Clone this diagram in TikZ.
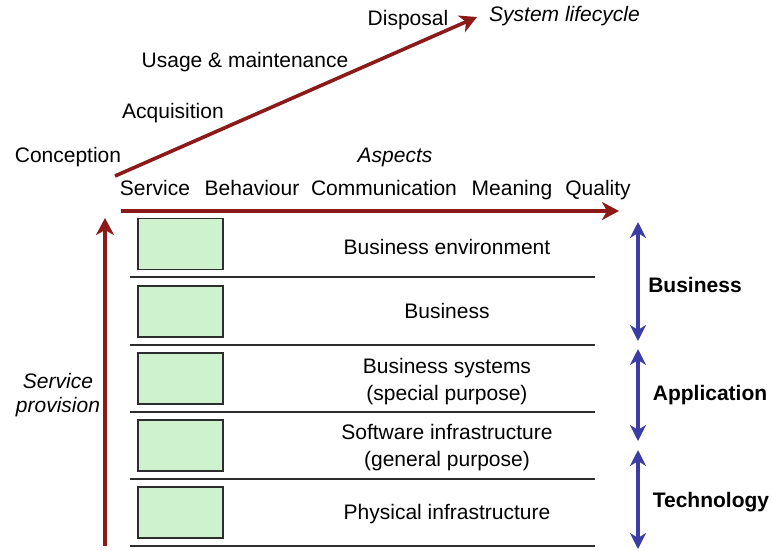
\documentclass[tikz,border=0pt]{standalone}
\usepackage{fontspec}
\setmainfont{Liberation Sans}
\usetikzlibrary{arrows.meta}
\definecolor{arrred}{RGB}{140,26,24}
\definecolor{arrblue}{RGB}{60,60,165}
\definecolor{boxgreen}{RGB}{206,242,206}
\definecolor{linegrey}{RGB}{45,45,45}
\begin{document}
\begin{tikzpicture}[x=1pt,y=-1pt,
  lbl/.style={font=\fontsize{21}{27}\selectfont, inner sep=0pt, align=center},
  one/.style={text height=15pt, text depth=0pt},
  itl/.style={lbl, font=\fontsize{21}{24}\selectfont\itshape},
  bld/.style={lbl, font=\fontsize{21}{24}\selectfont\bfseries},
  redarrow/.style={draw=arrred, line width=3.6pt, -{Stealth[length=17pt,width=18pt,inset=5pt]}},
  bluearrow/.style={draw=arrblue, line width=3.2pt, {Stealth[length=16pt,width=16pt,inset=5pt]}-{Stealth[length=16pt,width=16pt,inset=5pt]}},
  greenbox/.style={draw=linegrey, line width=1.3pt, fill=boxgreen, minimum width=85pt, minimum height=51pt, inner sep=0pt},
  sepline/.style={draw=linegrey, line width=1.3pt}
]
\useasboundingbox (0,0) rectangle (772,550);

% lifecycle
\coordinate (lcs) at (115,176);
\coordinate (lce) at (477,17);
\draw[redarrow] (lcs) -- (lce);
\node[lbl, one] (conc) at (68,155) {Conception};
\node[lbl, one] (acq) at (173,111) {Acquisition};
\node[lbl, one] (usage) at (245,60) {Usage \& maintenance};
\node[lbl, one] (disp) at (408,18) {Disposal};
\node[itl, one, anchor=west] (syslc) at (489,14) {System lifecycle};

% aspects
\node[itl, one] (aspects) at (395,155) {Aspects};
\node[lbl, one] (a1) at (155,188) {Service};
\node[lbl, one] (a2) at (252,188) {Behaviour};
\node[lbl, one] (a3) at (384,188) {Communication};
\node[lbl, one] (a4) at (512,188) {Meaning};
\node[lbl, one] (a5) at (598,188) {Quality};
\coordinate (ahs) at (121,211);
\coordinate (ahe) at (619,211);
\draw[redarrow] (ahs) -- (ahe);

% service provision
\coordinate (sps) at (105,546);
\coordinate (spe) at (105,218);
\draw[redarrow] (sps) -- (spe);
\node[itl] (sp) at (58,395) {Service\\provision};

% layers
\foreach \y in {277,345,412,479,546} \draw[sepline] (130,\y) -- (595,\y);
\node[greenbox] (b1) at (180.5,244) {};
\node[greenbox] (b2) at (180.5,311.5) {};
\node[greenbox] (b3) at (180.5,378.5) {};
\node[greenbox] (b4) at (180.5,445.5) {};
\node[greenbox] (b5) at (180.5,512.5) {};
\node[lbl, one] (l1) at (447,247) {Business environment};
\node[lbl, one] (l2) at (447,311) {Business};
\node[lbl] (l3) at (447,382) {Business systems\\(special purpose)};
\node[lbl] (l4) at (447,448) {Software infrastructure\\(general purpose)};
\node[lbl, one] (l5) at (447,512) {Physical infrastructure};

% right arrows
\coordinate (bt) at (638,222);
\coordinate (bb) at (638,341);
\coordinate (at) at (638,349);
\coordinate (ab) at (638,441);
\coordinate (tt) at (638,450);
\coordinate (tb) at (638,549);
\draw[bluearrow] (bt) -- (bb);
\draw[bluearrow] (at) -- (ab);
\draw[bluearrow] (tt) -- (tb);
\node[bld, one] (rb) at (695,285) {Business};
\node[bld, one] (ra) at (710,393) {Application};
\node[bld, one] (rt) at (711,500) {Technology};
\end{tikzpicture}
\end{document}
